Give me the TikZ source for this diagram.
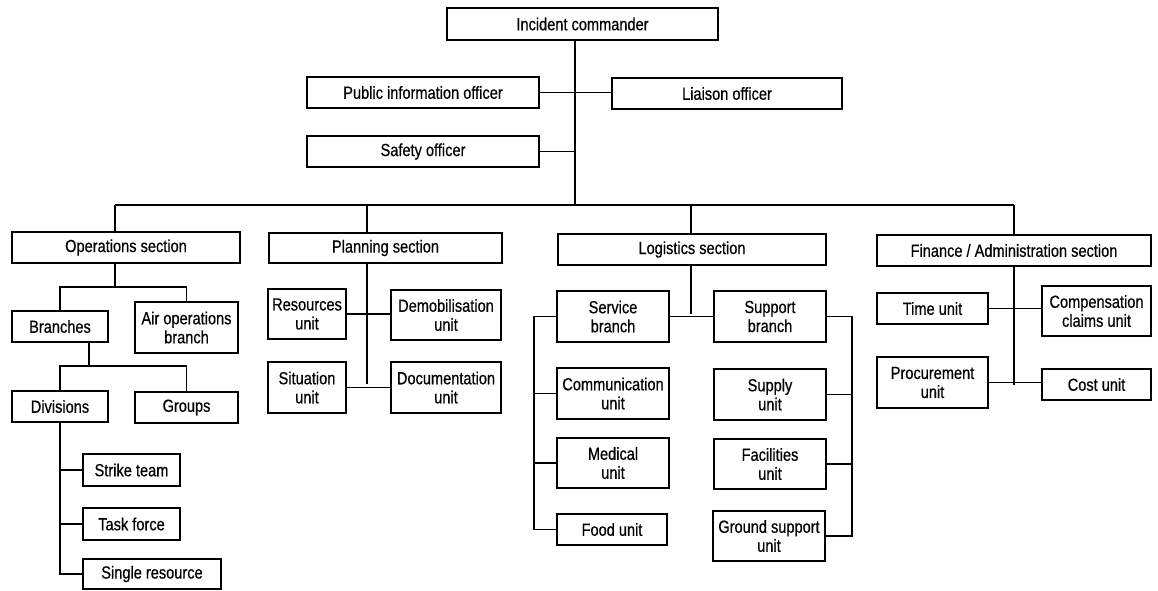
\documentclass[tikz,border=0pt]{standalone}
\usepackage{fontspec}
\setmainfont{Liberation Sans}[FakeStretch=0.83, FakeBold=0.5]
\newcommand{\boxfont}{\fontsize{12.5}{13.5}\selectfont}

\begin{document}
\begin{tikzpicture}[x=0.025cm, y=-0.025cm,
    box/.style 2 args={draw, line width=1.1pt, minimum width=#1*0.025cm,
      minimum height=#2*0.025cm, inner sep=1pt, align=center, font=\boxfont},
    link/.style={line width=1.1pt}]
    \useasboundingbox (0,0) rectangle (1158,591);

    % command staff
    \node[box={271}{32}] (ic) at (582.5,24) {Incident commander};
    \node[box={232}{31}] (pio) at (423,92.5) {Public information officer};
    \node[box={230}{31}] (liaison) at (727,93.5) {Liaison officer};
    \node[box={232}{31}] (safety) at (423,151.5) {Safety officer};

    % sections
    \node[box={228}{31}] (ops) at (126,247.5) {Operations section};
    \node[box={233}{30}] (plan) at (385.5,248) {Planning section};
    \node[box={268}{31}] (log) at (692,249.5) {Logistics section};
    \node[box={274}{31}] (fin) at (1014,250.5) {Finance / Administration section};

    % operations
    \node[box={96}{31}] (branches) at (60,326.5) {Branches};
    \node[box={103}{51}] (air) at (186.5,327.5) {Air operations\\branch};
    \node[box={96}{31}] (div) at (60,406.5) {Divisions};
    \node[box={103}{31}] (groups) at (186.5,407.5) {Groups};
    \node[box={97}{32}] (strike) at (131.5,470) {Strike team};
    \node[box={97}{32}] (task) at (131.5,524) {Task force};
    \node[box={138}{30}] (single) at (152,574) {Single resource};

    % planning
    \node[box={78}{50}] (res) at (307,314) {Resources\\unit};
    \node[box={110}{50}] (demob) at (446,315) {Demobilisation\\unit};
    \node[box={78}{51}] (sit) at (307,387.5) {Situation\\unit};
    \node[box={110}{51}] (doc) at (446,387.5) {Documentation\\unit};

    % logistics
    \node[box={112}{51}] (service) at (613,316.5) {Service\\branch};
    \node[box={112}{51}] (support) at (770,316.5) {Support\\branch};
    \node[box={112}{51}] (comm) at (613,393.5) {Communication\\unit};
    \node[box={112}{50}] (med) at (613,463) {Medical\\unit};
    \node[box={110}{31}] (food) at (612,529.5) {Food unit};
    \node[box={112}{51}] (supply) at (770,394.5) {Supply\\unit};
    \node[box={112}{50}] (facil) at (770,464) {Facilities\\unit};
    \node[box={112}{50}] (ground) at (769,536) {Ground support\\unit};

    % finance
    \node[box={111}{31}] (time) at (932.5,308.5) {Time unit};
    \node[box={109}{50}] (comp) at (1096.5,311) {Compensation\\claims unit};
    \node[box={111}{51}] (proc) at (932.5,382.5) {Procurement\\unit};
    \node[box={109}{31}] (cost) at (1096.5,384.5) {Cost unit};

    % links
    \coordinate (hub) at (575,205);
    \draw[link] (ic.south -| hub) -- (hub);
    \draw[link] (pio.east) -- (pio.east -| liaison.west);
    \draw[link] (safety.east) -- (safety.east -| hub);

    \coordinate (opsdrop) at (115,205);
    \coordinate (plandrop) at (367,205);
    \coordinate (logdrop) at (691,205);
    \coordinate (findrop) at (1014,205);
    \draw[link] (opsdrop) -- (findrop);
    \foreach \s/\d in {ops/opsdrop, plan/plandrop, log/logdrop, fin/findrop}
        \draw[link] (\d) -- (\d |- \s.north);

    \coordinate (opsjoin) at (115,287);
    \draw[link] (opsjoin |- ops.south) -- (opsjoin);
    \draw[link] (branches.north) |- (opsjoin) -| (air.north);
    \coordinate (brjoin) at (89,366);
    \draw[link] (brjoin |- branches.south) -- (brjoin);
    \draw[link] (div.north) |- (brjoin) -| (groups.north);
    \draw[link] (div.south) -- (div.south |- single.west) -- (single.west);
    \foreach \u in {strike, task}
        \draw[link] (\u.west) -- (\u.west -| div.south);

    \coordinate (planjoin) at (367,384);
    \draw[link] (planjoin |- plan.south) -- (planjoin);
    \draw[link] (res.east) -- (res.east -| demob.west);
    \draw[link] (sit.east) -- (sit.east -| doc.west);

    \coordinate (logjoin) at (691,314);
    \draw[link] (logjoin |- log.south) -- (logjoin);
    \draw[link] (service.east) -- (service.east -| support.west);
    \coordinate (svcspine) at (534,0);
    \draw[link] (service.west) -| (svcspine |- food.west) -- (food.west);
    \foreach \u in {comm, med}
        \draw[link] (\u.west) -- (\u.west -| svcspine);
    \coordinate (supspine) at (852,0);
    \draw[link] (support.east) -| (supspine |- ground.east) -- (ground.east);
    \foreach \u in {supply, facil}
        \draw[link] (\u.east) -- (\u.east -| supspine);

    \coordinate (finjoin) at (1014,385);
    \draw[link] (finjoin |- fin.south) -- (finjoin);
    \draw[link] (time.east) -- (time.east -| comp.west);
    \draw[link] (proc.east) -- (proc.east -| cost.west);
\end{tikzpicture}
\end{document}
